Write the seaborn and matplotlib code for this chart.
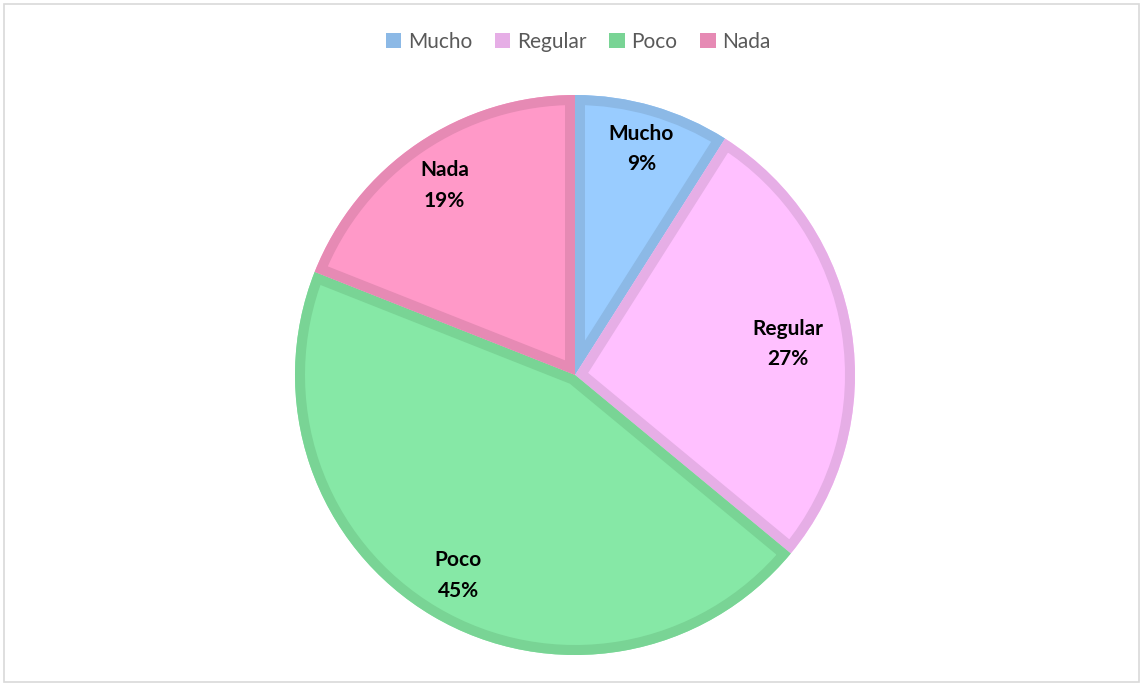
import matplotlib
matplotlib.use("Agg")
import matplotlib.pyplot as plt
import seaborn as sns
from matplotlib.patches import Rectangle, Patch, PathPatch
import numpy as np

categories = ["Mucho", "Regular", "Poco", "Nada"]
values = [9, 27, 45, 19]
fill_colors = ["#99CCFF", "#FFC0FF", "#86E8A6", "#FF99C8"]
edge_colors = ["#8CB9E6", "#E6AEE6", "#79D495", "#E68AB4"]

sns.set_theme(style="white")
plt.rcParams['font.family'] = ['Lato', 'DejaVu Sans']

W, H = 1143, 684
fig = plt.figure(figsize=(W / 100, H / 100), dpi=100)
fig.patch.set_facecolor("white")

cx, cy, r = 575, 375, 280
ax = fig.add_axes([(cx - r) / W, (H - cy - r) / H, 2 * r / W, 2 * r / H])
ax.set_aspect("equal")

wedges, texts = ax.pie(values, colors=fill_colors, startangle=90, counterclock=False,
                       radius=1.0, wedgeprops=dict(linewidth=0))
ax.set_xlim(-1, 1)
ax.set_ylim(-1, 1)
ax.axis("off")

lw_pts = 20 * 0.72
for w, ec in zip(wedges, edge_colors):
    path = w.get_path()
    border = PathPatch(path, transform=w.get_transform(), facecolor="none",
                       edgecolor=ec, linewidth=lw_pts, joinstyle="miter", zorder=3)
    ax.add_artist(border)
    border.set_clip_path(path, w.get_transform())

label_dist = [0.85, 0.77, 0.82, 0.83]
for w, cat, v, d in zip(wedges, categories, values, label_dist):
    ang = np.deg2rad((w.theta1 + w.theta2) / 2)
    ax.text(d * np.cos(ang), d * np.sin(ang) - 0.01, f"{cat}\n{v}%", ha="center", va="center",
            fontsize=15, fontweight="bold", color="black", linespacing=1.65, zorder=5)

handles = [Patch(facecolor=ec, edgecolor="none") for ec in edge_colors]
leg = fig.legend(handles, categories, loc="center", bbox_to_anchor=(578 / W, 1 - 42 / H),
                 ncol=4, frameon=False, fontsize=15, handlelength=0.75, handleheight=0.75,
                 handletextpad=0.3, columnspacing=1.1)
for t in leg.get_texts():
    t.set_color("#595959")

fig.add_artist(Rectangle((4 / W, 2 / H), (W - 8) / W, (H - 6) / H, transform=fig.transFigure,
                         fill=False, edgecolor="#D9D9D9", linewidth=1.2))

fig.savefig("out.png", dpi=100, facecolor="white")
